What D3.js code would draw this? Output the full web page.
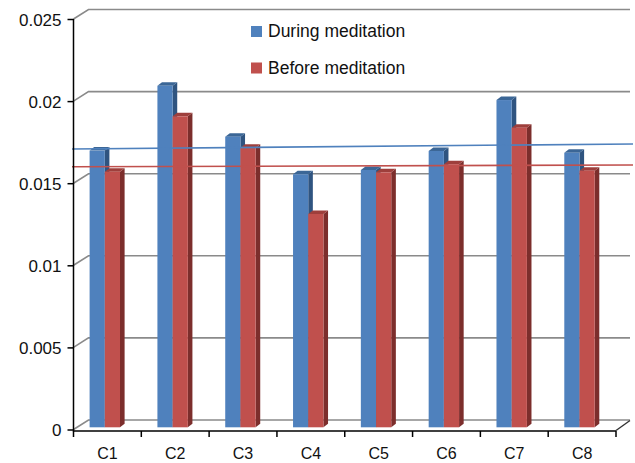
<!DOCTYPE html>
<html>
<head>
<meta charset="utf-8">
<script src="https://cdn.jsdelivr.net/npm/d3@7"></script>
<style>
  html, body { margin: 0; padding: 0; background: #fff; }
  svg { display: block; font-family: "Liberation Sans", Arial, sans-serif; }
</style>
</head>
<body>
<svg id="chart" width="635" height="463"></svg>
<script>
// ---- data ----
const categories = ["C1", "C2", "C3", "C4", "C5", "C6", "C7", "C8"];
const seriesNames = ["During meditation", "Before meditation"];
const during = [0.01685, 0.0208, 0.0177, 0.01541, 0.01567, 0.01683, 0.01993, 0.01672];
const before = [0.01557, 0.01894, 0.01703, 0.01299, 0.01553, 0.01602, 0.01825, 0.01563];
const yTickValues = [0, 0.005, 0.01, 0.015, 0.02, 0.025];
const yTickLabels = ["0", "0.005", "0.01", "0.015", "0.02", "0.025"];
// reference levels (start, end) drawn across the plot
const duringLevel = [0.01708, 0.01739];
const beforeLevel = [0.01600, 0.01611];

// ---- layout ----
const svg = d3.select("#chart");
const plotLeft = 73.5, plotRight = 616, plotTop = 19, plotBase = 429.5;
const depth = { dx: 15, dy: -9.5 };      // back wall offset
const barPlane = { dx: -2.6, dy: -2.2 }; // where the bars stand on the floor
const barSide = { dx: 4.6, dy: -3.5 };   // bar thickness
const barW = 15.2;

const x = d3.scaleBand().domain(categories).range([plotLeft, plotRight]);
const y = d3.scaleLinear().domain([0, 0.025]).range([plotBase, plotTop]);

const colors = {
  front: ["#4f81bd", "#c0504d"],
  top: ["#3b6696", "#9e3f3c"],
  side: ["#2f5480", "#7c2e2c"]
};

// back wall gridlines with their diagonal joins to the front axis
const grid = svg.append("g").attr("stroke", "#8a8a8a").attr("stroke-width", 1.6).attr("fill", "none");
yTickValues.forEach(v => {
  const yy = y(v);
  grid.append("path").attr("d",
    `M${plotLeft},${yy} L${plotLeft + depth.dx},${yy + depth.dy} L${630},${yy + depth.dy}`);
});

// floor right edge
svg.append("path")
  .attr("d", `M${plotRight},${plotBase + 1} L${plotRight + depth.dx - 1},${plotBase + depth.dy + 0.5}`)
  .attr("stroke", "#333").attr("stroke-width", 1.4).attr("fill", "none");

// bars
const series = [during, before];
categories.forEach((c, i) => {
  const cx = x(c) + x.bandwidth() / 2 + barPlane.dx;
  series.forEach((vals, s) => {
    const xs = cx - barW + s * barW;
    const x1 = xs + barW;
    const yTop = y(vals[i]) + barPlane.dy;
    const yBot = y(0) + barPlane.dy;
    const g = svg.append("g");
    // side face
    g.append("path")
      .attr("d", `M${x1},${yTop} L${x1 + barSide.dx},${yTop + barSide.dy} L${x1 + barSide.dx},${yBot + barSide.dy} L${x1},${yBot} Z`)
      .attr("fill", colors.side[s]);
    // top face
    g.append("path")
      .attr("d", `M${xs},${yTop} L${xs + barSide.dx},${yTop + barSide.dy} L${x1 + barSide.dx},${yTop + barSide.dy} L${x1},${yTop} Z`)
      .attr("fill", colors.top[s]);
    // front face
    g.append("rect")
      .attr("x", xs).attr("y", yTop)
      .attr("width", barW).attr("height", yBot - yTop)
      .attr("fill", colors.front[s]);
  });
});

// level lines
const lineX = d3.scaleLinear().domain([0, 1]).range([72, 633]);
[[duringLevel, colors.front[0]], [beforeLevel, colors.front[1]]].forEach(([lv, col]) => {
  svg.append("path")
    .datum(lv)
    .attr("d", d3.line().x((d, j) => lineX(j)).y(d => y(d)))
    .attr("stroke", col).attr("stroke-width", 1.6).attr("fill", "none");
});

// y axis
const yAxis = d3.axisLeft(y).tickValues(yTickValues)
  .tickFormat((d, i) => yTickLabels[i]).tickSize(6).tickPadding(6);
const gy = svg.append("g").attr("transform", `translate(${plotLeft},0)`).call(yAxis);
gy.select(".domain").attr("stroke", "#000").attr("stroke-width", 1.5)
  .attr("d", `M0,${plotTop} V${plotBase + 2}`);
gy.selectAll(".tick line").attr("stroke", "#000").attr("stroke-width", 1.5);
gy.selectAll(".tick text").attr("font-size", 17).attr("fill", "#111")
  .attr("font-family", "'Liberation Sans', Arial, sans-serif").attr("dy", "0.36em");

// x axis
const xAxis = d3.axisBottom(x).tickSize(0).tickPadding(0);
const gx = svg.append("g").attr("transform", `translate(0,${plotBase + 1.5})`).call(xAxis);
gx.select(".domain").attr("stroke", "#000").attr("stroke-width", 1.5)
  .attr("d", `M${plotLeft},0 H${plotRight}`);
gx.selectAll(".tick text").attr("font-size", 16).attr("fill", "#111")
  .attr("font-family", "'Liberation Sans', Arial, sans-serif")
  .attr("y", 28).attr("dy", 0);
// category boundary ticks
const bounds = categories.map(c => x(c)).concat([plotRight]);
gx.selectAll(".bound").data(bounds).enter().append("line")
  .attr("x1", d => d).attr("x2", d => d).attr("y1", 0).attr("y2", 6)
  .attr("stroke", "#000").attr("stroke-width", 1.5);

// legend
const legend = svg.append("g").attr("transform", "translate(251,26)");
seriesNames.forEach((name, s) => {
  const row = legend.append("g").attr("transform", `translate(0,${s * 36.5})`);
  row.append("rect").attr("width", 11).attr("height", 11).attr("fill", colors.front[s]);
  row.append("text").attr("x", 17).attr("y", 11).attr("font-size", 17.5)
    .attr("fill", "#111").text(name);
});
</script>
</body>
</html>
